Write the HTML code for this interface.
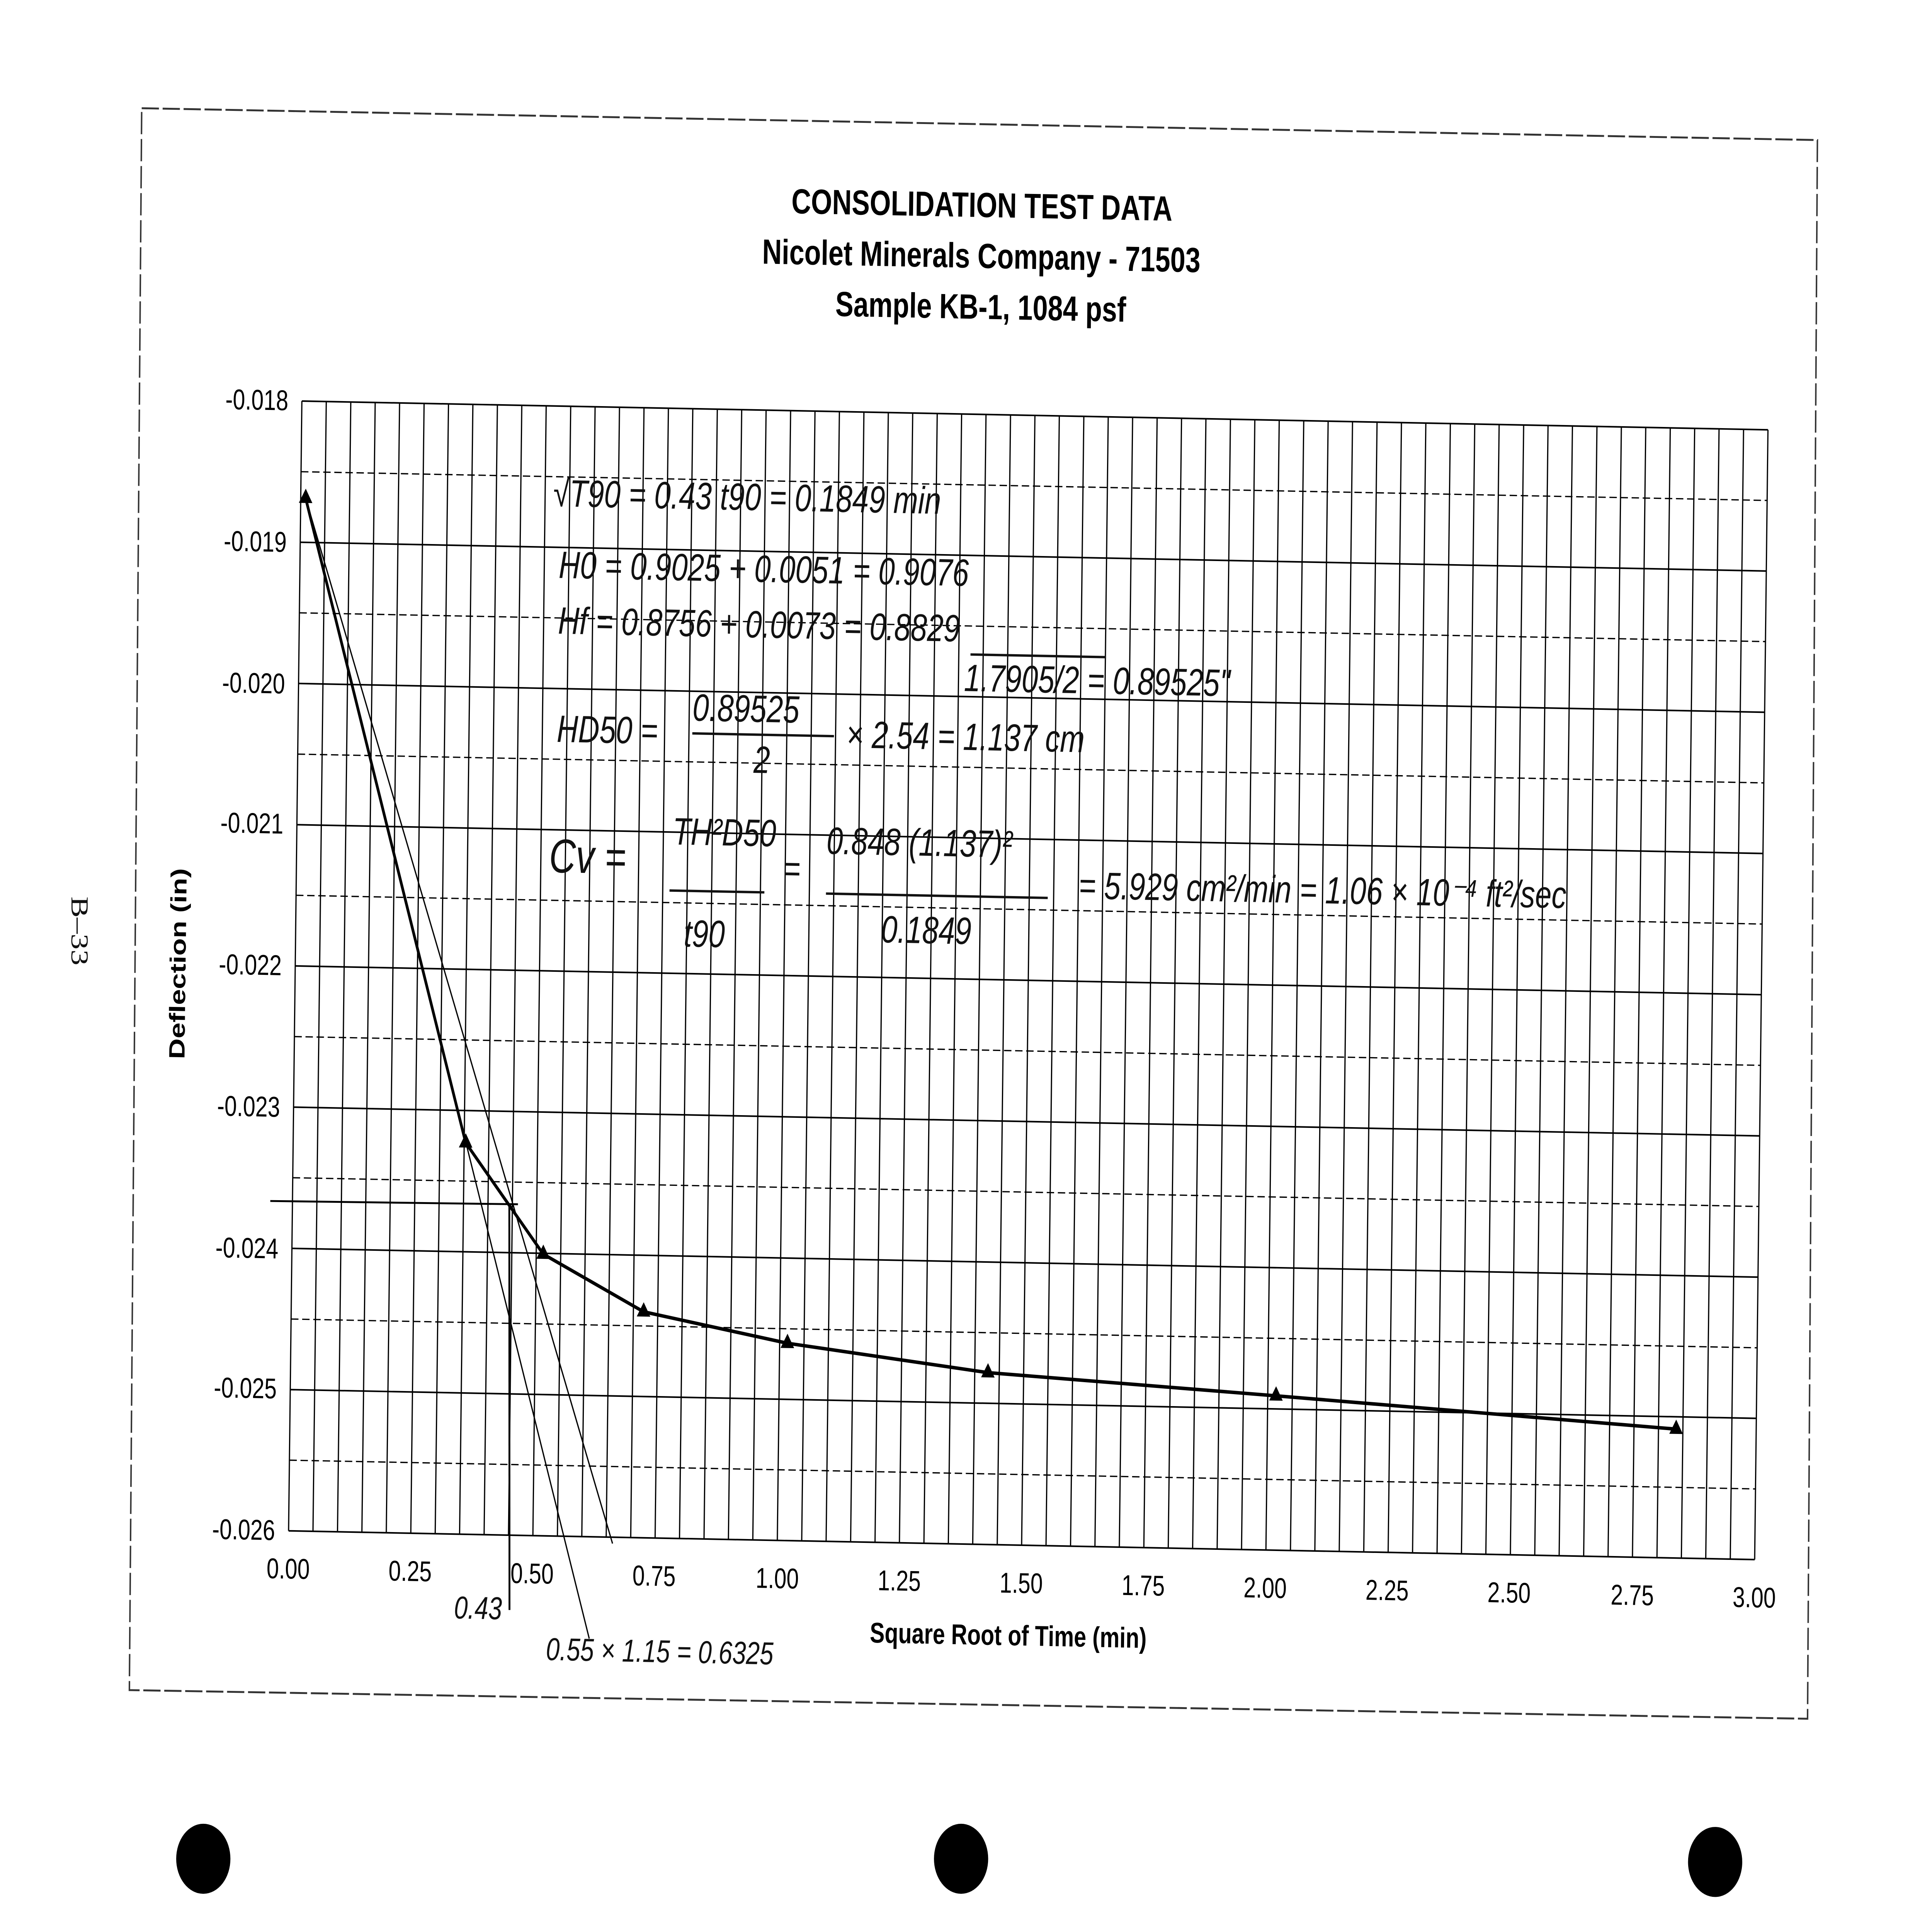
<!DOCTYPE html>
<html><head><meta charset="utf-8"><style>
html,body{margin:0;padding:0;background:#fff;overflow:hidden;width:100vw;height:100vh;}
svg{display:block;position:absolute;left:0;top:0;width:100vw;height:100vh;}
</style></head><body>
<svg xmlns="http://www.w3.org/2000/svg" viewBox="0 0 1568 1214" preserveAspectRatio="none">
<rect width="1568" height="1214" fill="#fff"/>
<polygon points="115,68 1475,88 1467,1080 105,1062" fill="none" stroke="#333" stroke-width="1.2" stroke-dasharray="14,3"/>
<text x="58" y="585" transform="rotate(90 58 585)" font-family="Liberation Serif, serif" font-size="20" text-anchor="middle" fill="#111">B–33</text>
<circle cx="165" cy="1168" r="22" fill="#000"/>
<circle cx="780" cy="1168" r="22" fill="#000"/>
<circle cx="1392" cy="1170" r="22" fill="#000"/>
<g transform="rotate(0.87 245 252)" font-family="Liberation Sans, sans-serif" fill="#000">
<text x="795" y="128" font-size="22" font-weight="bold" text-anchor="middle">CONSOLIDATION TEST DATA</text>
<text x="795" y="160" font-size="22" font-weight="bold" text-anchor="middle">Nicolet Minerals Company - 71503</text>
<text x="795" y="192" font-size="22" font-weight="bold" text-anchor="middle">Sample KB-1, 1084 psf</text>
<g stroke="#000">
<g stroke-width="1">
<line x1="245" y1="252" x2="1435" y2="252"/>
<line x1="245" y1="340.75" x2="1435" y2="340.75"/>
<line x1="245" y1="429.5" x2="1435" y2="429.5"/>
<line x1="245" y1="518.25" x2="1435" y2="518.25"/>
<line x1="245" y1="607" x2="1435" y2="607"/>
<line x1="245" y1="695.75" x2="1435" y2="695.75"/>
<line x1="245" y1="784.5" x2="1435" y2="784.5"/>
<line x1="245" y1="873.25" x2="1435" y2="873.25"/>
<line x1="245" y1="962" x2="1435" y2="962"/>
</g>
<g stroke-width="0.8" stroke-dasharray="6,3">
<line x1="245" y1="296.4" x2="1435" y2="296.4"/>
<line x1="245" y1="385.1" x2="1435" y2="385.1"/>
<line x1="245" y1="473.9" x2="1435" y2="473.9"/>
<line x1="245" y1="562.6" x2="1435" y2="562.6"/>
<line x1="245" y1="651.4" x2="1435" y2="651.4"/>
<line x1="245" y1="740.1" x2="1435" y2="740.1"/>
<line x1="245" y1="828.9" x2="1435" y2="828.9"/>
<line x1="245" y1="917.6" x2="1435" y2="917.6"/>
</g>
<path stroke-width="1" d="M245 252V962M264.8 252V962M284.7 252V962M304.5 252V962M324.3 252V962M344.2 252V962M364 252V962M383.8 252V962M403.7 252V962M423.5 252V962M443.3 252V962M463.2 252V962M483 252V962M502.8 252V962M522.7 252V962M542.5 252V962M562.3 252V962M582.2 252V962M602 252V962M621.8 252V962M641.7 252V962M661.5 252V962M681.3 252V962M701.2 252V962M721 252V962M740.8 252V962M760.7 252V962M780.5 252V962M800.3 252V962M820.2 252V962M840 252V962M859.8 252V962M879.7 252V962M899.5 252V962M919.3 252V962M939.2 252V962M959 252V962M978.8 252V962M998.7 252V962M1018.5 252V962M1038.3 252V962M1058.2 252V962M1078 252V962M1097.8 252V962M1117.7 252V962M1137.5 252V962M1157.3 252V962M1177.2 252V962M1197 252V962M1216.8 252V962M1236.7 252V962M1256.5 252V962M1276.3 252V962M1296.2 252V962M1316 252V962M1335.8 252V962M1355.7 252V962M1375.5 252V962M1395.3 252V962M1415.2 252V962M1435 252V962"/>
</g>
<g font-size="18" text-anchor="end">
<text x="234" y="258">-0.018</text>
<text x="234" y="347">-0.019</text>
<text x="234" y="436">-0.020</text>
<text x="234" y="524">-0.021</text>
<text x="234" y="613">-0.022</text>
<text x="234" y="702">-0.023</text>
<text x="234" y="791">-0.024</text>
<text x="234" y="879">-0.025</text>
<text x="234" y="968">-0.026</text>
</g>
<g font-size="18" text-anchor="middle">
<text x="245" y="992">0.00</text>
<text x="344" y="992">0.25</text>
<text x="443" y="992">0.50</text>
<text x="542" y="992">0.75</text>
<text x="642" y="992">1.00</text>
<text x="741" y="992">1.25</text>
<text x="840" y="992">1.50</text>
<text x="939" y="992">1.75</text>
<text x="1038" y="992">2.00</text>
<text x="1137" y="992">2.25</text>
<text x="1236" y="992">2.50</text>
<text x="1336" y="992">2.75</text>
<text x="1435" y="992">3.00</text>
</g>
<text x="830" y="1025" font-size="18" font-weight="bold" text-anchor="middle">Square Root of Time (min)</text>
<text x="156" y="607" font-size="18" font-weight="bold" text-anchor="middle" transform="rotate(-90 156 607)">Deflection (in)</text>
<g stroke="#000" fill="none">
<line x1="249" y1="313" x2="508" y2="966" stroke-width="1"/>
<line x1="249" y1="313" x2="490" y2="1026" stroke-width="1"/>
<line x1="421" y1="754" x2="425" y2="1009" stroke-width="1.5"/>
<line x1="227" y1="755" x2="428" y2="754" stroke-width="1.2"/>
<polyline points="249,313 385,716 449,785 531,820 648,838 811,854 1045,865 1370,881" stroke-width="2.2"/>
</g>
<g fill="#000">
<path d="M249 307l5.5 9h-11z"/><path d="M385 710l5.5 9h-11z"/><path d="M449 779l5.5 9h-11z"/><path d="M531 814l5.5 9h-11z"/><path d="M648 832l5.5 9h-11z"/><path d="M811 848l5.5 9h-11z"/><path d="M1045 859l5.5 9h-11z"/><path d="M1370 875l5.5 9h-11z"/>
</g>
<g font-family="Liberation Sans, sans-serif" font-style="italic" font-size="24" fill="#111">
<text x="450" y="315">√T90 = 0.43    t90 = 0.1849 min</text>
<text x="455" y="360">H0 = 0.9025 + 0.0051 = 0.9076</text>
<text x="455" y="395">Hf = 0.8756 + 0.0073 = 0.8829</text>
<text x="785" y="426">1.7905/2 = 0.89525"</text>
<text x="455" y="463">HD50 =</text>
<text x="565" y="448">0.89525</text>
<text x="615" y="480">2</text>
<text x="690" y="463">× 2.54 = 1.137 cm</text>
<text x="450" y="545" font-size="30">Cv =</text>
<text x="550" y="526">TH²D50</text>
<text x="560" y="590">t90</text>
<text x="640" y="548">=</text>
<text x="675" y="530">0.848 (1.137)²</text>
<text x="720" y="585">0.1849</text>
<text x="880" y="555">=  5.929 cm²/min = 1.06 × 10⁻⁴ ft²/sec</text>
<text x="380" y="1015" font-size="20">0.43</text>
<text x="455" y="1040" font-size="20">0.55 × 1.15 = 0.6325</text>
</g>
<g stroke="#111" stroke-width="1.5">
<line x1="565" y1="456" x2="680" y2="456"/>
<line x1="548" y1="555" x2="625" y2="555"/>
<line x1="675" y1="555" x2="855" y2="555"/>
<line x1="790" y1="403" x2="900" y2="403"/>
</g>
</g>
</svg>
</body></html>
